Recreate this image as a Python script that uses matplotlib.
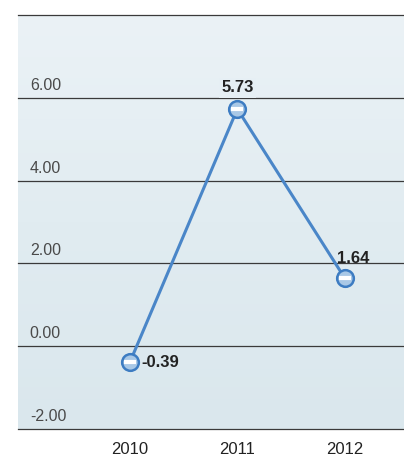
import numpy as np
import matplotlib.pyplot as plt
from matplotlib.colors import LinearSegmentedColormap

years = ['2010', '2011', '2012']
values = [-0.39, 5.73, 1.64]
value_labels = ['-0.39', '5.73', '1.64']
y_ticks = [-2, 0, 2, 4, 6]
y_tick_labels = ['-2.00', '0.00', '2.00', '4.00', '6.00']

plt.rcParams['font.family'] = ['Liberation Sans Narrow', 'DejaVu Sans Condensed',
                               'Liberation Sans', 'DejaVu Sans']

W, H = 404, 462
fig = plt.figure(figsize=(W / 100, H / 100), dpi=100)
fig.patch.set_facecolor('white')
ax = fig.add_axes([18 / W, (H - 429) / H, (W - 18) / W, (429 - 15) / H])

# soft blue backdrop, paler toward the top
grad = np.linspace(0, 1, 256).reshape(-1, 1)
bg = LinearSegmentedColormap.from_list('bg', ['#dae7ed', '#e1ecf1', '#ebf2f6'])
ax.imshow(grad, extent=[-1.04, 2.55, -2, 8], aspect='auto', origin='lower',
          cmap=bg, zorder=0)

ax.set_xlim(-1.04, 2.55)
ax.set_ylim(-2, 8)
for s in ax.spines.values():
    s.set_visible(False)

for y in y_ticks + [8]:
    ax.axhline(y, color='#3a3a3a', lw=0.9, zorder=1, clip_on=False)

for y, lab in zip(y_ticks, y_tick_labels):
    ax.text(-0.93, y + 0.12, lab, fontsize=11.5, color='#4a4a4a',
            ha='left', va='bottom', zorder=2)

x = np.arange(len(years))
ax.plot(x, values, color='#4a86c8', lw=2.2, zorder=3)
ax.plot(x, values, 'o', ms=12, mfc='#a9c8e6', mec='#3d7cc2', mew=1.8, zorder=4)
ax.plot(x, values, '_', ms=9, mew=3, color='white', zorder=5)

ax.text(x[0] + 0.11, values[0], value_labels[0], fontsize=12, weight='bold',
        color='#222222', ha='left', va='center', zorder=6)
ax.text(x[1], values[1] + 0.33, value_labels[1], fontsize=12, weight='bold',
        color='#222222', ha='center', va='bottom', zorder=6,
        bbox=dict(boxstyle='square,pad=0.15', fc='#e6eff4', ec='none'))
ax.text(x[2] + 0.08, values[2] + 0.3, value_labels[2], fontsize=12, weight='bold',
        color='#222222', ha='center', va='bottom', zorder=6)

ax.set_yticks([])
ax.set_xticks(x)
ax.set_xticklabels(years, fontsize=12, color='#222222')
ax.tick_params(axis='x', length=0, pad=9)

fig.savefig('out.png', dpi=100)
